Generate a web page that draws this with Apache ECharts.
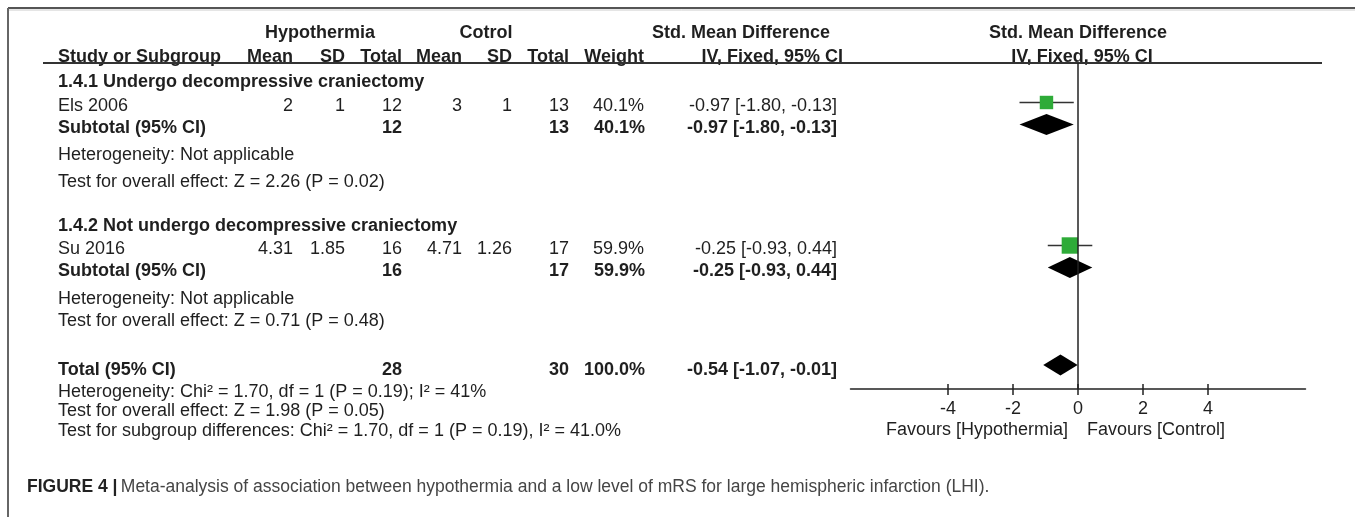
<!DOCTYPE html>
<html>
<head>
<meta charset="utf-8">
<script src="https://cdn.jsdelivr.net/npm/echarts@6/dist/echarts.min.js"></script>
<style>
html,body{margin:0;padding:0;background:#fff;}
#chart{width:1355px;height:517px;}
</style>
</head>
<body>
<div id="chart"></div>
<script>
// ---------------- DATA ----------------
const studies = ['Els 2006', 'Su 2016'];
const hypMean = [2, 4.31];
const hypSD = [1, 1.85];
const hypN = [12, 16];
const ctlMean = [3, 4.71];
const ctlSD = [1, 1.26];
const ctlN = [13, 17];
const weights = [40.1, 59.9];
const smd = [-0.97, -0.25];
const ciLow = [-1.80, -0.93];
const ciHigh = [-0.13, 0.44];

const subgroupTitles = ['1.4.1 Undergo decompressive craniectomy', '1.4.2 Not undergo decompressive craniectomy'];
const subHypN = [12, 16];
const subCtlN = [13, 17];
const subWeight = [40.1, 59.9];
const subSmd = [-0.97, -0.25];
const subLow = [-1.80, -0.93];
const subHigh = [-0.13, 0.44];
const subHet = ['Heterogeneity: Not applicable', 'Heterogeneity: Not applicable'];
const subTest = ['Test for overall effect: Z = 2.26 (P = 0.02)', 'Test for overall effect: Z = 0.71 (P = 0.48)'];

const totalHypN = [28];
const totalCtlN = [30];
const totalWeight = [100.0];
const totalSmd = [-0.54];
const totalLow = [-1.07];
const totalHigh = [-0.01];
const footerLines = [
  'Heterogeneity: Chi² = 1.70, df = 1 (P = 0.19); I² = 41%',
  'Test for overall effect: Z = 1.98 (P = 0.05)',
  'Test for subgroup differences: Chi² = 1.70, df = 1 (P = 0.19), I² = 41.0%'
];
const xTicks = [-4, -2, 0, 2, 4];
const favourLabels = ['Favours [Hypothermia]', 'Favours [Control]'];
const headerGroups = ['Hypothermia', 'Cotrol', 'Std. Mean Difference'];
const headerCols = ['Study or Subgroup', 'Mean', 'SD', 'Total', 'Mean', 'SD', 'Total', 'Weight', 'IV, Fixed, 95% CI'];
const plotHeader = ['Std. Mean Difference', 'IV, Fixed, 95% CI'];
const captionBold = 'FIGURE 4 |';
const captionText = 'Meta-analysis of association between hypothermia and a low level of mRS for large hemispheric infarction (LHI).';

// ---------------- LAYOUT ----------------
const FONT = '"Liberation Sans", Arial, sans-serif';
const FS = 18;
const TXT = '#1f1f1f';
const GREEN = '#2EAB38';
const colX = { label: 58, hMean: 293, hSD: 345, hN: 402, cMean: 462, cSD: 512, cN: 569, w: 644, ci: 837 };
const subRows = [
  { title: 82, study: 106, sub: 128, het: 155, test: 182 },
  { title: 226, study: 249, sub: 271, het: 299, test: 321 }
];
const totalRowY = 370;
const footerY = [392, 411, 431];
const markShift = -3.5;
const plotTop = 63, plotBottom = 389;

// ---------------- HELPERS ----------------
const graphics = [];
function txt(x, y, s, opt) {
  opt = opt || {};
  graphics.push({
    type: 'text', x: x, y: y, silent: true,
    style: {
      text: s, fill: opt.fill || TXT,
      font: (opt.bold ? 'bold ' : '') + (opt.size || FS) + 'px ' + FONT,
      align: opt.align || 'left', verticalAlign: 'middle'
    }
  });
}
const fmtCI = (e, l, h) => e.toFixed(2) + ' [' + l.toFixed(2) + ', ' + h.toFixed(2) + ']';
const fmtW = w => w.toFixed(1) + '%';

// headers
txt(320, 33, headerGroups[0], { bold: true, align: 'center' });
txt(486, 33, headerGroups[1], { bold: true, align: 'center' });
txt(741, 33, headerGroups[2], { bold: true, align: 'center' });
txt(1078, 33, plotHeader[0], { bold: true, align: 'center' });
txt(1082, 57, plotHeader[1], { bold: true, align: 'center' });
const hdrX = [colX.label, colX.hMean, colX.hSD, colX.hN, colX.cMean, colX.cSD, colX.cN, colX.w, 843];
headerCols.forEach((h, i) => txt(hdrX[i], 57, h, { bold: true, align: i === 0 ? 'left' : 'right' }));

// subgroups
const studyMarkY = [], subMarkY = [];
subgroupTitles.forEach((t, g) => {
  const r = subRows[g];
  txt(colX.label, r.title, t, { bold: true });
  const i = g; // one study per subgroup
  txt(colX.label, r.study, studies[i]);
  txt(colX.hMean, r.study, String(hypMean[i]), { align: 'right' });
  txt(colX.hSD, r.study, String(hypSD[i]), { align: 'right' });
  txt(colX.hN, r.study, String(hypN[i]), { align: 'right' });
  txt(colX.cMean, r.study, String(ctlMean[i]), { align: 'right' });
  txt(colX.cSD, r.study, String(ctlSD[i]), { align: 'right' });
  txt(colX.cN, r.study, String(ctlN[i]), { align: 'right' });
  txt(colX.w, r.study, fmtW(weights[i]), { align: 'right' });
  txt(colX.ci, r.study, fmtCI(smd[i], ciLow[i], ciHigh[i]), { align: 'right' });
  studyMarkY.push(r.study + markShift);

  txt(colX.label, r.sub, 'Subtotal (95% CI)', { bold: true });
  txt(colX.hN, r.sub, String(subHypN[g]), { bold: true, align: 'right' });
  txt(colX.cN, r.sub, String(subCtlN[g]), { bold: true, align: 'right' });
  txt(colX.w + 1, r.sub, fmtW(subWeight[g]), { bold: true, align: 'right' });
  txt(colX.ci, r.sub, fmtCI(subSmd[g], subLow[g], subHigh[g]), { bold: true, align: 'right' });
  subMarkY.push(r.sub + markShift);
  txt(colX.label, r.het, subHet[g]);
  txt(colX.label, r.test, subTest[g]);
});

// total
txt(colX.label, totalRowY, 'Total (95% CI)', { bold: true });
txt(colX.hN, totalRowY, String(totalHypN[0]), { bold: true, align: 'right' });
txt(colX.cN, totalRowY, String(totalCtlN[0]), { bold: true, align: 'right' });
txt(colX.w + 1, totalRowY, fmtW(totalWeight[0]), { bold: true, align: 'right' });
txt(colX.ci, totalRowY, fmtCI(totalSmd[0], totalLow[0], totalHigh[0]), { bold: true, align: 'right' });
footerLines.forEach((l, i) => txt(colX.label, footerY[i], l));

// caption
graphics.push({
  type: 'text', x: 27, y: 487, silent: true,
  style: {
    text: '{b|' + captionBold + '} {r|' + captionText + '}',
    verticalAlign: 'middle',
    rich: {
      b: { font: 'bold 17.5px ' + FONT, fill: '#222' },
      r: { font: '17.5px ' + FONT, fill: '#454545' }
    }
  }
});

// frame and header rule
graphics.push({ type: 'line', silent: true, shape: { x1: 8, y1: 8, x2: 1355, y2: 8 }, style: { stroke: '#555', lineWidth: 2 } });
graphics.push({ type: 'line', silent: true, shape: { x1: 8, y1: 10, x2: 1355, y2: 10 }, style: { stroke: '#ccc', lineWidth: 1 } });
graphics.push({ type: 'line', silent: true, shape: { x1: 8, y1: 8, x2: 8, y2: 517 }, style: { stroke: '#666', lineWidth: 2 } });
graphics.push({ type: 'line', silent: true, shape: { x1: 43, y1: 63, x2: 1322, y2: 63 }, style: { stroke: '#333', lineWidth: 2 } });

// ---------------- CHART ----------------
const chart = echarts.init(document.getElementById('chart'), null, { renderer: 'canvas' });
const axisCommon = { type: 'value', min: -7, max: 7, gridIndex: 0, splitLine: { show: false } };
const option = {
  animation: false,
  backgroundColor: '#fff',
  grid: [{ left: 850.5, top: plotTop, width: 455, height: plotBottom - plotTop, containLabel: false }],
  xAxis: [
    Object.assign({}, axisCommon, {
      position: 'bottom',
      axisLine: { show: true, onZero: false, lineStyle: { color: '#222', width: 1.5 } },
      axisTick: { show: true, customValues: xTicks, length: 6, lineStyle: { color: '#222', width: 1.5 } },
      axisLabel: { show: true, customValues: xTicks, margin: 11, fontSize: FS, fontFamily: FONT, color: TXT,
        formatter: v => String(v) }
    }),
    Object.assign({}, axisCommon, {
      position: 'bottom',
      axisLine: { show: false, onZero: false },
      axisTick: { show: true, inside: true, customValues: xTicks, length: 5, lineStyle: { color: '#222', width: 1.5 } },
      axisLabel: { show: false }
    })
  ],
  yAxis: [{ type: 'value', inverse: true, min: plotTop, max: plotBottom, gridIndex: 0, show: false }],
  graphic: graphics,
  series: [
    {
      type: 'custom', xAxisIndex: 0, yAxisIndex: 0, silent: true, clip: false,
      data: studies.map((s, i) => [smd[i], ciLow[i], ciHigh[i], studyMarkY[i], weights[i]]),
      encode: { x: [0, 1, 2], y: 3 },
      renderItem: (params, api) => {
        const y = api.value(3);
        const pL = api.coord([api.value(1), y]);
        const pH = api.coord([api.value(2), y]);
        const pE = api.coord([api.value(0), y]);
        const size = 2.12 * Math.sqrt(api.value(4));
        return {
          type: 'group', children: [
            { type: 'line', shape: { x1: pL[0], y1: pL[1], x2: pH[0], y2: pH[1] }, style: { stroke: '#333', lineWidth: 1.5 } },
            { type: 'rect', shape: { x: pE[0] - size / 2, y: pE[1] - size / 2, width: size, height: size }, style: { fill: GREEN } }
          ]
        };
      },
      markLine: {
        silent: true, symbol: 'none', animation: false,
        label: { show: false },
        lineStyle: { color: '#222', width: 1.5, type: 'solid' },
        data: [{ xAxis: 0 }]
      }
    },
    {
      type: 'custom', xAxisIndex: 0, yAxisIndex: 0, silent: true, clip: false,
      data: subSmd.map((e, g) => [e, subLow[g], subHigh[g], subMarkY[g]])
        .concat([[totalSmd[0], totalLow[0], totalHigh[0], totalRowY + markShift - 1.5]]),
      encode: { x: [0, 1, 2], y: 3 },
      renderItem: (params, api) => {
        const y = api.value(3);
        const pL = api.coord([api.value(1), y]);
        const pH = api.coord([api.value(2), y]);
        const pE = api.coord([api.value(0), y]);
        const h = 10.5;
        return {
          type: 'polygon',
          shape: { points: [[pL[0], pL[1]], [pE[0], pE[1] - h], [pH[0], pH[1]], [pE[0], pE[1] + h]] },
          style: { fill: '#000' }
        };
      }
    }
  ]
};
chart.setOption(option);

// favour labels anchored at the zero of the scale
const zeroPx = chart.convertToPixel({ xAxisIndex: 0 }, 0);
chart.setOption({
  graphic: graphics.concat([
    { type: 'text', x: zeroPx - 10, y: 430, silent: true,
      style: { text: favourLabels[0], font: FS + 'px ' + FONT, fill: TXT, align: 'right', verticalAlign: 'middle' } },
    { type: 'text', x: zeroPx + 9, y: 430, silent: true,
      style: { text: favourLabels[1], font: FS + 'px ' + FONT, fill: TXT, align: 'left', verticalAlign: 'middle' } }
  ])
});
</script>
</body>
</html>
